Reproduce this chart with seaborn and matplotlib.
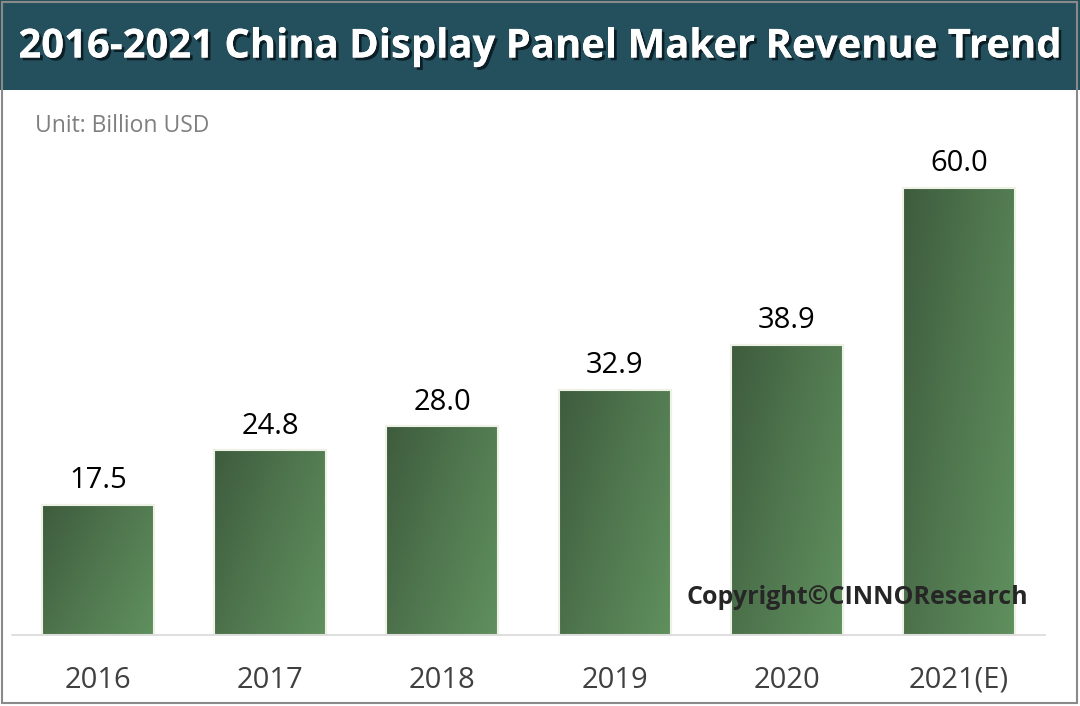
import numpy as np
import pandas as pd
import matplotlib
matplotlib.use("Agg")
import matplotlib.pyplot as plt
import matplotlib.patheffects as pe
from matplotlib.colors import LinearSegmentedColormap
from matplotlib.patches import Rectangle
import seaborn as sns

years = ["2016", "2017", "2018", "2019", "2020", "2021(E)"]
revenue = [17.5, 24.8, 28.0, 32.9, 38.9, 60.0]
labels = ["17.5", "24.8", "28.0", "32.9", "38.9", "60.0"]

title = "2016-2021 China Display Panel Maker Revenue Trend"
unit = "Unit: Billion USD"
copyright_text = "Copyright©CINNOResearch"

sns.set_theme(style="white")
plt.rcParams['font.family'] = ['Open Sans', 'DejaVu Sans']

W, H = 1080, 706
fig = plt.figure(figsize=(W / 100, H / 100), dpi=100)
fig.patch.set_facecolor("white")

# banner
fig.patches.append(Rectangle((0, (H - 90) / H), 1, 90 / H, transform=fig.transFigure,
                             facecolor="#24505D", edgecolor="none", zorder=0))
# border
fig.patches.append(Rectangle((2 / W, 3 / H), (W - 5) / W, (H - 5) / H, transform=fig.transFigure,
                             facecolor="none", edgecolor="#8a8a8a", linewidth=1.5, zorder=1))

fig.text(540 / W, (H - 47) / H, title, color="white", fontsize=28.8, fontweight="bold",
         ha="center", va="center", fontstretch="condensed",
         path_effects=[pe.withSimplePatchShadow(offset=(2, -2), shadow_rgbFace="#0a1a20", alpha=0.9),
                       pe.Normal()])

fig.text(35 / W, (H - 126) / H, unit, color="#7f7f7f", fontsize=16.5, ha="left", va="center")

ax = fig.add_axes([12 / W, (H - 635) / H, (1045 - 12) / W, (635 - 100) / H])
df = pd.DataFrame({"year": years, "revenue": revenue})
sns.barplot(data=df, x="year", y="revenue", ax=ax, color="#4f7a4f", width=0.65,
            edgecolor="#f4f6ee", linewidth=1.5, saturation=1)
ax.set_xlim(-0.5, len(years) - 0.5)
ax.set_ylim(0, 535 / 7.45)

cmap = LinearSegmentedColormap.from_list("g", ["#3e5c3d", "#50774f", "#60905e"])
grad = np.add.outer(np.linspace(0, 1, 64) * 0.6, np.linspace(0, 1, 64)) / 1.6
for p in ax.patches:
    x0, y0 = p.get_x(), p.get_y()
    w, h = p.get_width(), p.get_height()
    im = ax.imshow(grad, cmap=cmap, extent=(x0, x0 + w, y0, y0 + h), origin="upper",
                   aspect="auto", zorder=p.get_zorder() + 0.1, interpolation="bicubic")
    im.set_clip_path(p)
    edge = Rectangle((x0, y0), w, h, facecolor="none", edgecolor="#eef2e6", linewidth=1.5,
                     zorder=p.get_zorder() + 0.2)
    ax.add_patch(edge)
ax.set_xlim(-0.5, len(years) - 0.5)
ax.set_ylim(0, 535 / 7.45)

for i, (v, t) in enumerate(zip(revenue, labels)):
    ax.annotate(t, (i, v), xytext=(0, 7), textcoords="offset points", ha="center", va="bottom",
                fontsize=21, color="black")

for s in ["top", "right", "left"]:
    ax.spines[s].set_visible(False)
ax.spines["bottom"].set_color("#d9d9d9")
ax.spines["bottom"].set_linewidth(1.2)
ax.set_yticks([])
ax.set_xlabel("")
ax.set_ylabel("")
ax.tick_params(axis="x", length=0, pad=22, labelsize=21, labelcolor="#404040")
ax.set_facecolor("none")

fig.text(857 / W, (H - 598) / H, copyright_text, color="#262626", fontsize=18, fontweight="bold",
         ha="center", va="center", zorder=10)

fig.savefig("out.png", dpi=100)
